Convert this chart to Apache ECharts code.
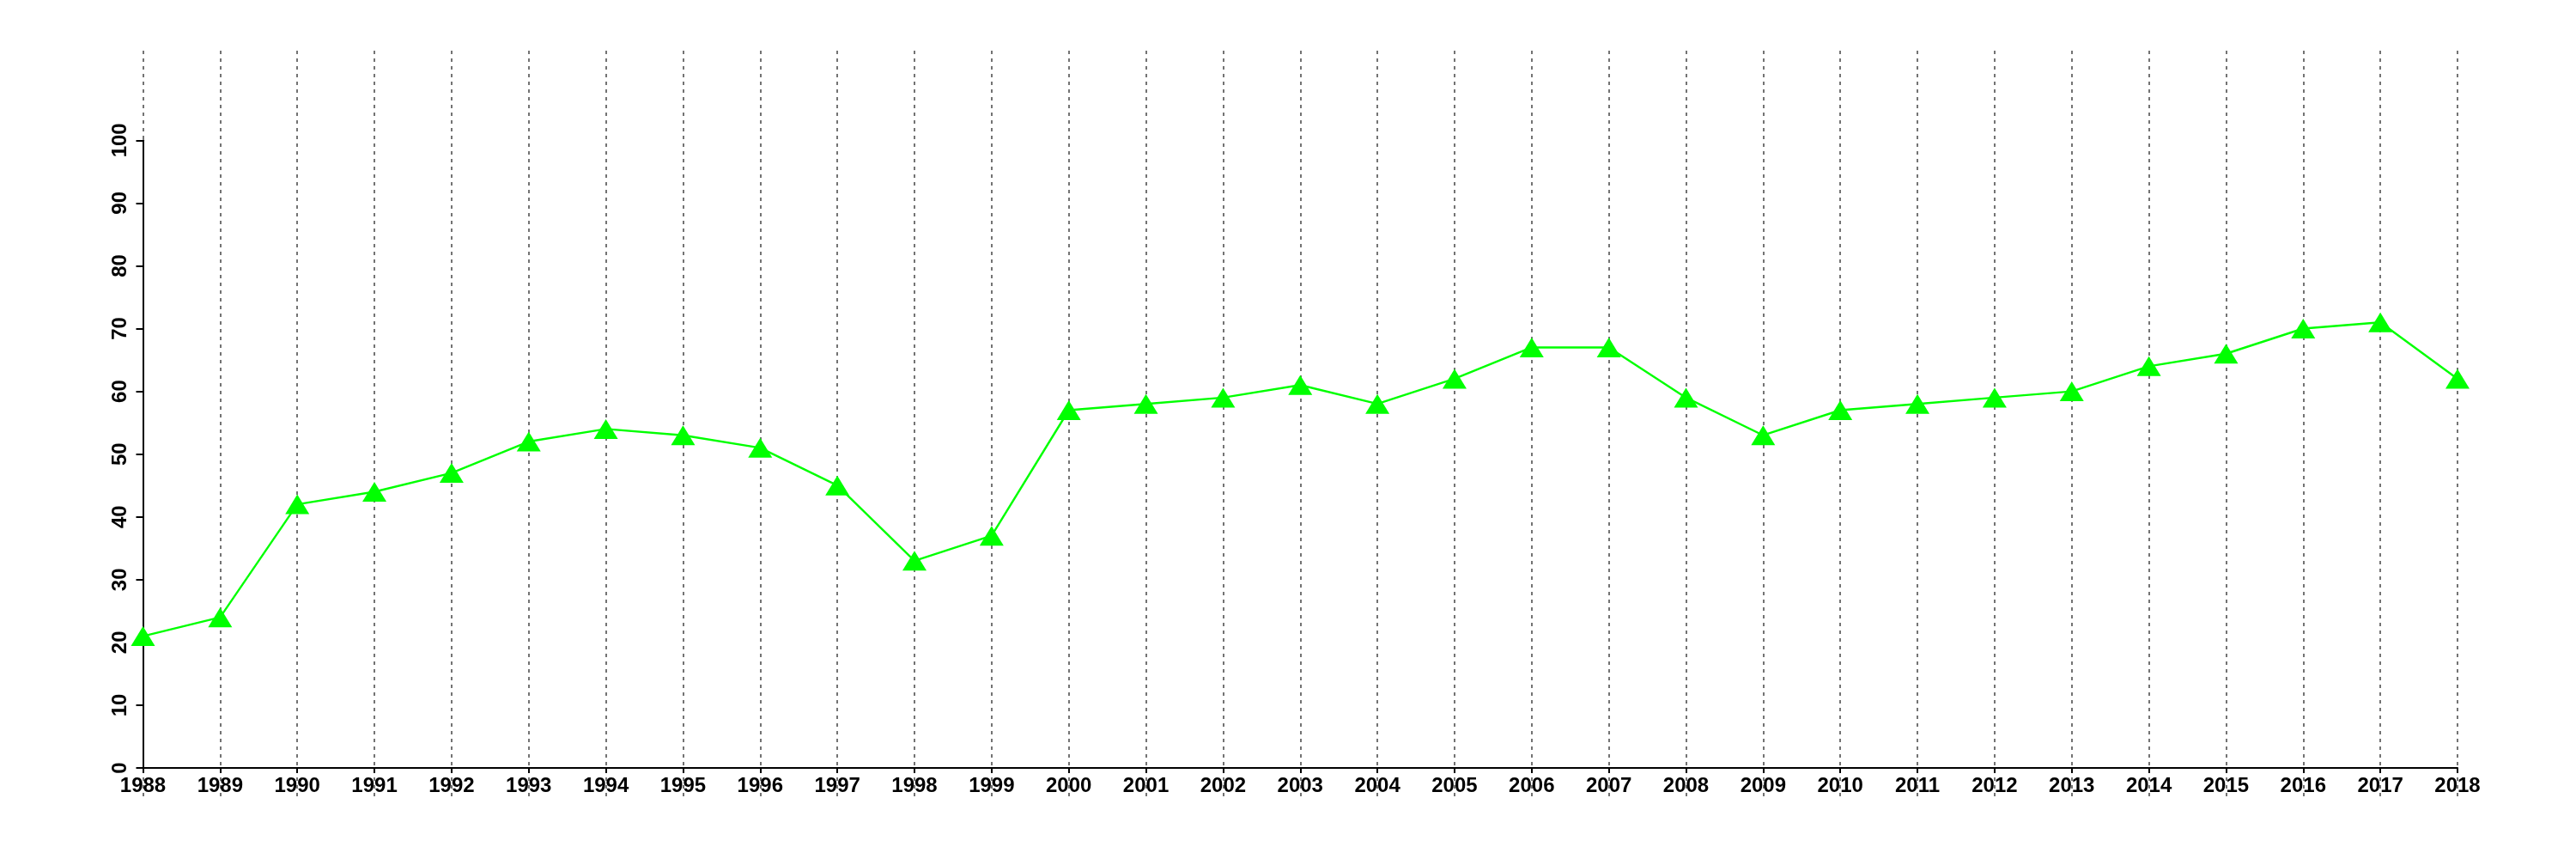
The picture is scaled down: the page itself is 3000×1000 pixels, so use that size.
<!DOCTYPE html>
<html>
<head>
<meta charset="utf-8">
<script src="https://cdn.jsdelivr.net/npm/echarts@6/dist/echarts.min.js"></script>
<style>
html,body{margin:0;padding:0;background:#fff;}
#chart{width:3000px;height:1000px;}
</style>
</head>
<body>
<div id="chart"></div>
<script>
const years = ['1988','1989','1990','1991','1992','1993','1994','1995','1996','1997','1998','1999','2000','2001','2002','2003','2004','2005','2006','2007','2008','2009','2010','2011','2012','2013','2014','2015','2016','2017','2018'];
const values = [21,24,42,44,47,52,54,53,51,45,33,37,57,58,59,61,58,62,67,67,59,53,57,58,59,60,64,66,70,71,62];
const yMin = 0, yMax = 100, yStep = 10;

const font = '"Liberation Sans", Arial, Helvetica, sans-serif';
const chart = echarts.init(document.getElementById('chart'));
chart.setOption({
  backgroundColor: '#ffffff',
  animation: false,
  grid: [
    {left: 166.5, right: 138, top: 163.3, bottom: 106},
    {left: 166.5, right: 138, top: 59, bottom: 70}
  ],
  xAxis: [
    {
      type: 'category', gridIndex: 0, data: years, boundaryGap: false,
      axisLine: {show: true, lineStyle: {color: '#000', width: 2}},
      axisTick: {show: true, length: 6, interval: 0, lineStyle: {color: '#000', width: 2}},
      axisLabel: {show: true, interval: 0, margin: 9, color: '#000', fontSize: 24, fontWeight: 'bold', fontFamily: font},
      splitLine: {show: false}
    },
    {
      type: 'category', gridIndex: 1, data: years, boundaryGap: false,
      axisLine: {show: false}, axisTick: {show: false}, axisLabel: {show: false},
      splitLine: {show: true, interval: 0, lineStyle: {color: '#737373', width: 2, type: [4, 5]}}
    }
  ],
  yAxis: [
    {
      type: 'value', gridIndex: 0, min: yMin, max: yMax, interval: yStep,
      axisLine: {show: true, lineStyle: {color: '#000', width: 2}},
      axisTick: {show: true, length: 8, lineStyle: {color: '#000', width: 2}},
      axisLabel: {show: true, rotate: 90, margin: 14, color: '#000', fontSize: 24, fontWeight: 'bold', fontFamily: font},
      splitLine: {show: false}
    },
    {
      type: 'value', gridIndex: 1, min: 0, max: 1,
      axisLine: {show: false}, axisTick: {show: false}, axisLabel: {show: false}, splitLine: {show: false}
    }
  ],
  series: [
    {
      type: 'line', xAxisIndex: 0, yAxisIndex: 0, data: values,
      symbol: 'triangle', symbolSize: [28, 23],
      itemStyle: {color: '#00ff00'},
      lineStyle: {color: '#00ff00', width: 2.4},
      z: 5
    }
  ]
});
</script>
</body>
</html>
